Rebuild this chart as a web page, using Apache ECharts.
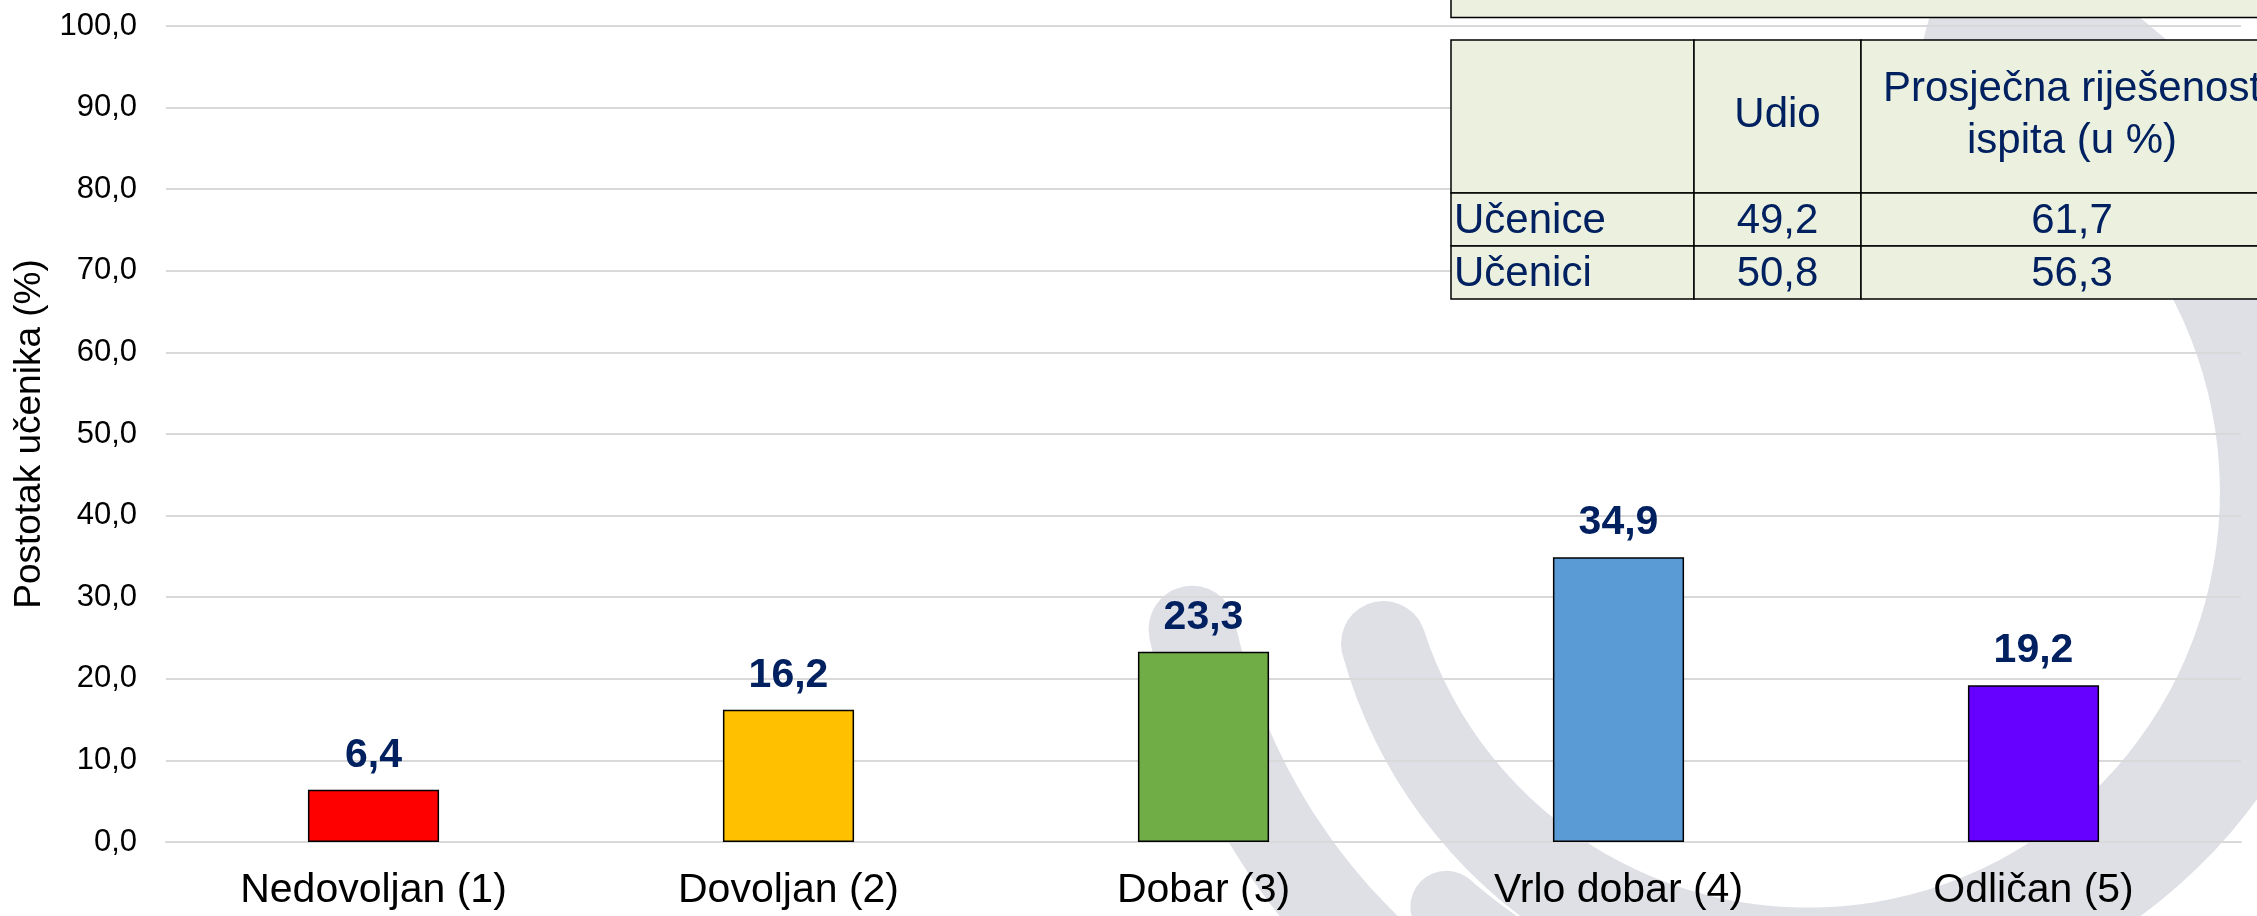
<!DOCTYPE html>
<html>
<head>
<meta charset="utf-8">
<script src="https://cdn.jsdelivr.net/npm/echarts@6/dist/echarts.min.js"></script>
<style>
    html, body { margin: 0; padding: 0; background: #fff; }
    #chart { width: 2257px; height: 916px; }
</style>
</head>
<body>
<div id="chart"></div>
<script>
// podaci
const ocjene = ['Nedovoljan (1)', 'Dovoljan (2)', 'Dobar (3)', 'Vrlo dobar (4)', 'Odličan (5)'];
const postotak = [6.4, 16.2, 23.3, 34.9, 19.2];
const boje = ['#ff0000', '#ffc000', '#70ad47', '#5b9bd5', '#6600ff'];

const spol = ['Učenice', 'Učenici'];
const udio = [49.2, 50.8];
const rijesenost = [61.7, 56.3];
const zaglavlje = ['', 'Udio', 'Prosječna riješenost\nispita (u %)'];

const FONT = '"Liberation Sans", Arial, sans-serif';
const NAVY = '#002060';

function fmt(v) {
    return v.toFixed(1).replace('.', ',');
}

// sivi luk u pozadini (vodeni žig)
function luk(cx, cy, a0, a1, rIn0, rIn1, rOut0, rOut1) {
    const vanjski = [], unutarnji = [];
    const n = 90;
    for (let i = 0; i <= n; i++) {
        const t = i / n;
        const a = (a0 + (a1 - a0) * t) * Math.PI / 180;
        const ro = rOut0 + (rOut1 - rOut0) * t;
        const ri = rIn0 + (rIn1 - rIn0) * t;
        vanjski.push([cx + ro * Math.cos(a), cy + ro * Math.sin(a)]);
        unutarnji.push([cx + ri * Math.cos(a), cy + ri * Math.sin(a)]);
    }
    const a = a0 * Math.PI / 180;
    const rm = (rIn0 + rOut0) / 2;
    return [
        { type: 'polygon', z: -5, silent: true, shape: { points: vanjski.concat(unutarnji.reverse()) }, style: { fill: '#dfe0e6' } },
        { type: 'circle', z: -5, silent: true, shape: { cx: cx + rm * Math.cos(a), cy: cy + rm * Math.sin(a), r: (rOut0 - rIn0) / 2 }, style: { fill: '#dfe0e6' } }
    ];
}

const zig = [].concat(
    luk(1800, 500, 161, -75, 398, 430, 483, 600),
    luk(1800, 500, 168, 60, 578, 580, 665, 670),
    luk(1800, 500, 131, 60, 503, 505, 575, 580)
);

// tablica gore desno
const stupci = [1451, 1694, 1861, 2290];
const redovi = [40, 193, 246, 299];
const tablica = [];
const redPodaci = [zaglavlje].concat(spol.map((s, i) => [s, fmt(udio[i]), fmt(rijesenost[i])]));
redPodaci.forEach((red, r) => {
    red.forEach((tekst, c) => {
        tablica.push({
            type: 'rect', z: 100,
            shape: { x: stupci[c], y: redovi[r], width: stupci[c + 1] - stupci[c], height: redovi[r + 1] - redovi[r] },
            style: { fill: '#ebf1de', stroke: '#000', lineWidth: 1.5 }
        });
        const lijevo = (r > 0 && c === 0);
        tablica.push({
            type: 'text', z: 101,
            style: {
                text: tekst,
                x: lijevo ? stupci[c] + 3 : (c === 2 ? 2072 : (stupci[c] + stupci[c + 1]) / 2),
                y: (redovi[r] + redovi[r + 1]) / 2 + (r === 0 ? -1 : 2),
                font: '42px ' + FONT,
                lineHeight: 52,
                fill: NAVY,
                align: lijevo ? 'left' : 'center',
                verticalAlign: 'middle',
                textAlign: lijevo ? 'left' : 'center',
                textVerticalAlign: 'middle'
            }
        });
    });
});
// gornja (odrezana) tablica
tablica.push({
    type: 'rect', z: 100,
    shape: { x: 1451, y: -20, width: 900, height: 37.5 },
    style: { fill: '#ebf1de', stroke: '#000', lineWidth: 1.5 }
});

const chart = echarts.init(document.getElementById('chart'));
const option = {
    backgroundColor: '#fff',
    animation: false,
    textStyle: { fontFamily: FONT },
    grid: { left: 166, right: 16, top: 26, bottom: 74, containLabel: false },
    xAxis: {
        type: 'category',
        data: ocjene,
        axisTick: { show: false },
        axisLine: { show: true, lineStyle: { color: '#d9d9d9', width: 2 } },
        axisLabel: { fontSize: 41, color: '#000', margin: 28, fontFamily: FONT }
    },
    yAxis: {
        type: 'value',
        min: 0,
        max: 100,
        interval: 10,
        name: 'Postotak učenika (%)',
        nameLocation: 'middle',
        nameRotate: 90,
        nameGap: 116,
        nameTextStyle: { fontSize: 37, color: '#000', fontFamily: FONT },
        axisLine: { show: false },
        axisTick: { show: false },
        axisLabel: { fontSize: 31, color: '#000', margin: 29, fontFamily: FONT, formatter: fmt },
        splitLine: { lineStyle: { color: '#d9d9d9', width: 2 } }
    },
    series: [{
        type: 'bar',
        barWidth: '31.6%',
        data: postotak.map((v, i) => ({ value: v, itemStyle: { color: boje[i] } })),
        itemStyle: { borderColor: '#000', borderWidth: 1.5 },
        label: {
            show: true,
            position: 'top',
            distance: 14,
            fontSize: 41,
            fontWeight: 'bold',
            color: NAVY,
            fontFamily: FONT,
            formatter: p => fmt(p.value)
        }
    }],
    graphic: { elements: zig.concat(tablica) }
};
chart.setOption(option);
</script>
</body>
</html>
